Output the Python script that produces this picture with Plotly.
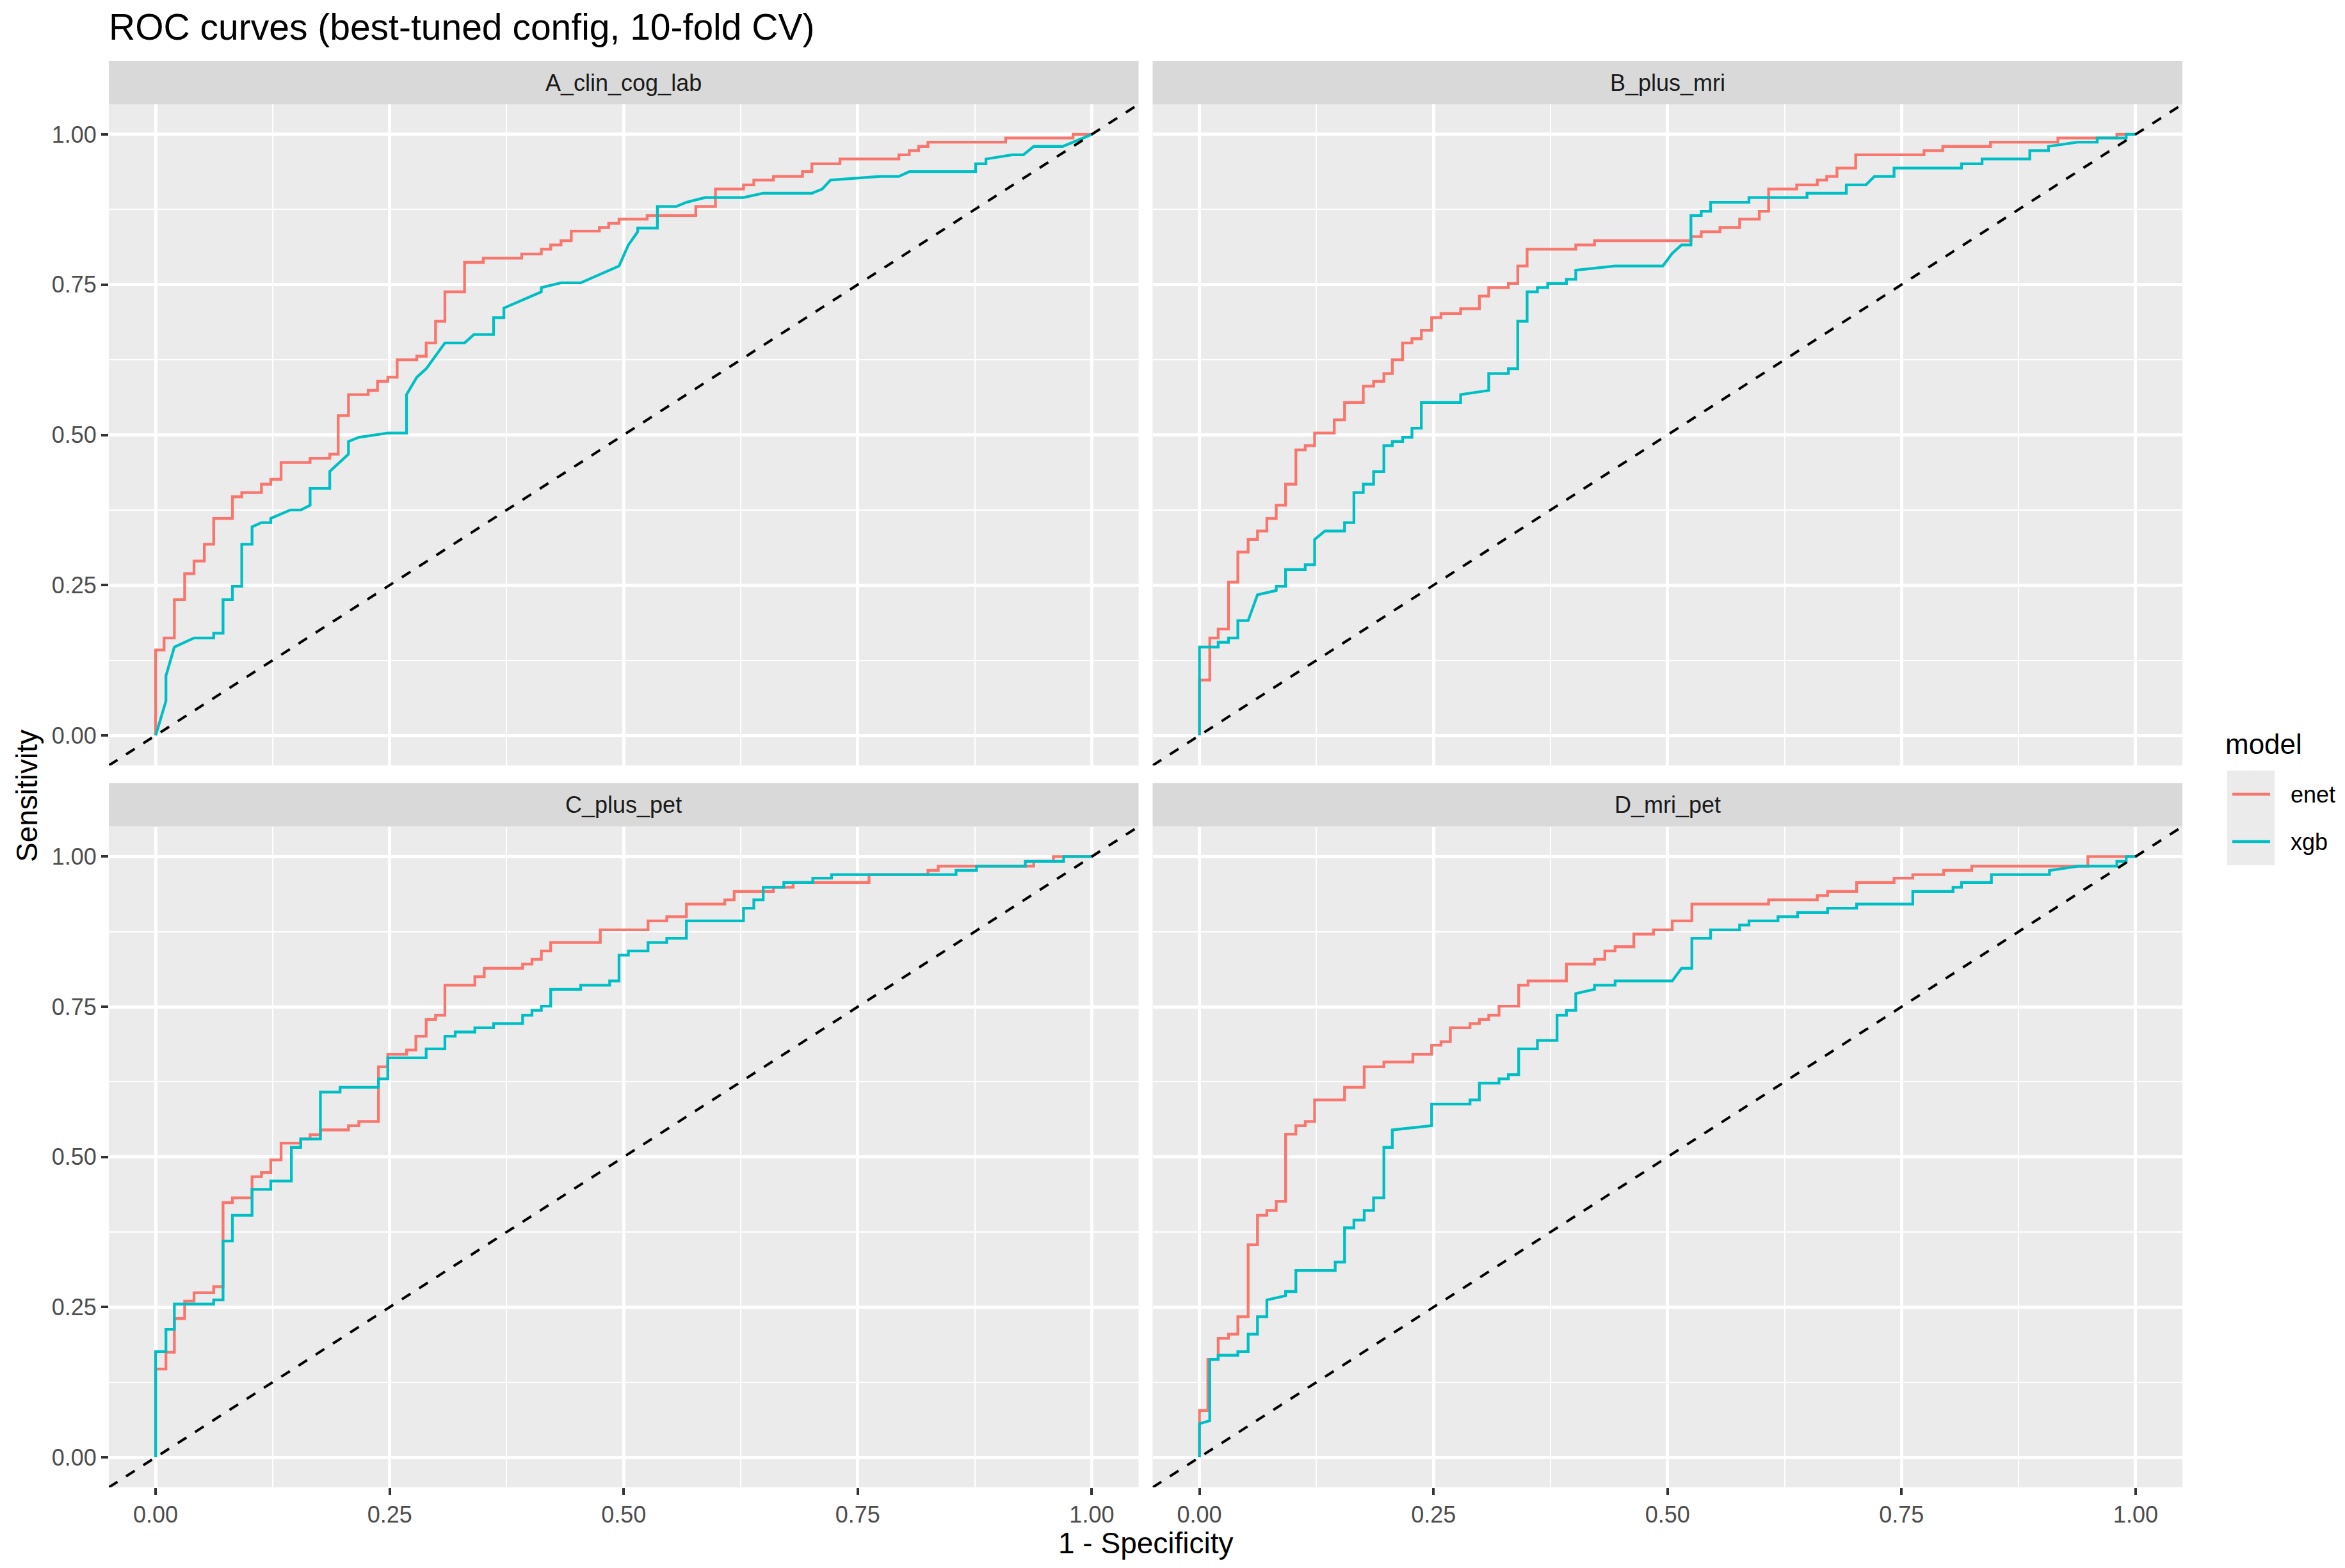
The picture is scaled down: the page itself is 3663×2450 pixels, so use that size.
import plotly.graph_objects as go

# ROC points (1 - specificity, sensitivity)
panels = ["A_clin_cog_lab", "B_plus_mri", "C_plus_pet", "D_mri_pet"]
models = ["enet", "xgb"]
model_colors = ["#F8766D", "#00BFC4"]
tick_vals = [0, 0.25, 0.5, 0.75, 1]
tick_labels = ["0.00", "0.25", "0.50", "0.75", "1.00"]

A_enet = [(0, 0), (0, .142), (.009, .142), (.009, .162), (.020, .162), (.020, .226), (.031, .226), (.031, .269),
          (.041, .269), (.041, .290), (.052, .290), (.052, .318), (.062, .318), (.062, .361), (.082, .361), (.082, .397),
          (.092, .397), (.092, .404), (.113, .404), (.113, .418), (.123, .418), (.123, .426), (.134, .426), (.134, .454),
          (.165, .454), (.165, .461), (.186, .461), (.186, .468), (.195, .468), (.195, .532), (.206, .532), (.206, .567),
          (.227, .567), (.227, .574), (.237, .574), (.237, .589), (.248, .589), (.248, .596), (.258, .596), (.258, .625),
          (.279, .625), (.279, .631), (.289, .631), (.289, .653), (.299, .653), (.299, .689), (.309, .689), (.309, .738),
          (.330, .738), (.330, .787), (.350, .787), (.350, .794), (.391, .794), (.391, .801), (.412, .801), (.412, .809),
          (.422, .809), (.422, .816), (.433, .816), (.433, .823), (.444, .823), (.444, .839), (.474, .839), (.474, .845),
          (.484, .845), (.484, .852), (.495, .852), (.495, .859), (.525, .859), (.525, .865), (.577, .865), (.577, .880),
          (.598, .880), (.598, .909), (.628, .909), (.628, .916), (.639, .916), (.639, .924), (.660, .924), (.660, .930),
          (.691, .930), (.691, .938), (.701, .938), (.701, .951), (.731, .951), (.731, .959), (.794, .959), (.794, .966),
          (.805, .966), (.805, .973), (.815, .973), (.815, .980), (.825, .980), (.825, .987), (.908, .987), (.908, .994),
          (.980, .994), (.980, 1), (1, 1)]

A_xgb = [(0, 0), (.011, .057), (.011, .099), (.020, .147), (.041, .162), (.062, .162), (.062, .170), (.072, .170),
         (.072, .226), (.082, .226), (.082, .248), (.092, .248), (.092, .318), (.103, .318), (.103, .347), (.113, .354),
         (.123, .354), (.123, .361), (.144, .375), (.155, .375), (.165, .383), (.165, .411), (.186, .411), (.186, .439),
         (.206, .468), (.206, .489), (.217, .496), (.248, .503), (.268, .503), (.268, .567), (.279, .596), (.289, .610),
         (.309, .653), (.330, .653), (.340, .667), (.361, .667), (.361, .695), (.372, .695), (.372, .711), (.412, .738),
         (.412, .745), (.433, .753), (.454, .753), (.495, .781), (.505, .816), (.515, .838), (.515, .844), (.536, .844),
         (.536, .880), (.556, .880), (.567, .887), (.587, .895), (.628, .895), (.649, .902), (.701, .902), (.712, .909),
         (.721, .924), (.774, .930), (.794, .930), (.805, .938), (.876, .938), (.876, .951), (.887, .951), (.887, .959),
         (.915, .966), (.927, .966), (.938, .980), (.969, .980), (1, 1)]

B_enet = [(0, 0), (0, .092), (.011, .092), (.011, .162), (.020, .162), (.020, .177), (.031, .177), (.031, .255),
          (.041, .255), (.041, .305), (.052, .305), (.052, .326), (.062, .326), (.062, .340), (.072, .340), (.072, .361),
          (.082, .361), (.082, .383), (.092, .383), (.092, .418), (.103, .418), (.103, .475), (.113, .475), (.113, .482),
          (.123, .482), (.123, .503), (.144, .503), (.144, .525), (.155, .525), (.155, .554), (.175, .554), (.175, .581),
          (.186, .581), (.186, .589), (.197, .589), (.197, .602), (.206, .602), (.206, .625), (.217, .625), (.217, .653),
          (.227, .653), (.227, .660), (.237, .660), (.237, .674), (.248, .674), (.248, .695), (.258, .695), (.258, .702),
          (.279, .702), (.279, .710), (.299, .710), (.299, .731), (.309, .731), (.309, .745), (.330, .745), (.330, .752),
          (.340, .752), (.340, .781), (.350, .781), (.350, .809), (.402, .809), (.402, .816), (.422, .816), (.422, .823),
          (.525, .823), (.525, .830), (.536, .830), (.536, .838), (.556, .838), (.556, .845), (.577, .845), (.577, .859),
          (.598, .859), (.598, .872), (.608, .872), (.608, .909), (.638, .909), (.638, .916), (.660, .916), (.660, .924),
          (.670, .924), (.670, .930), (.681, .930), (.681, .944), (.701, .944), (.701, .966), (.774, .966), (.774, .973),
          (.794, .973), (.794, .980), (.845, .980), (.845, .987), (.917, .987), (.917, .994), (.980, .994), (.980, 1),
          (1, 1)]

B_xgb = [(0, 0), (0, .147), (.020, .147), (.020, .155), (.031, .155), (.031, .162), (.041, .162), (.041, .191),
         (.052, .191), (.062, .234), (.082, .241), (.082, .248), (.092, .248), (.092, .276), (.113, .276), (.113, .284),
         (.123, .284), (.123, .326), (.134, .340), (.155, .340), (.155, .354), (.165, .354), (.165, .404), (.175, .404),
         (.175, .418), (.186, .418), (.186, .439), (.197, .439), (.197, .482), (.206, .482), (.206, .489), (.217, .489),
         (.217, .496), (.227, .496), (.227, .511), (.237, .511), (.237, .554), (.279, .554), (.279, .567), (.309, .574),
         (.309, .602), (.330, .602), (.330, .610), (.340, .610), (.340, .689), (.350, .689), (.350, .738), (.361, .738),
         (.361, .745), (.372, .745), (.372, .752), (.392, .752), (.392, .759), (.402, .759), (.402, .774), (.444, .781),
         (.495, .781), (.505, .802), (.515, .816), (.525, .816), (.525, .865), (.536, .865), (.536, .872), (.546, .872),
         (.546, .887), (.587, .887), (.587, .895), (.649, .895), (.649, .902), (.691, .902), (.691, .916), (.712, .916),
         (.721, .930), (.742, .930), (.742, .944), (.814, .944), (.814, .951), (.836, .951), (.836, .959), (.887, .959),
         (.887, .973), (.907, .973), (.907, .980), (.938, .987), (.959, .987), (.959, .994), (.990, .994), (.990, 1),
         (1, 1)]

C_enet = [(0, 0), (0, .147), (.011, .147), (.011, .175), (.020, .175), (.020, .231), (.031, .231), (.031, .260),
          (.041, .260), (.041, .274), (.062, .274), (.062, .284), (.072, .284), (.072, .424), (.082, .424), (.082, .432),
          (.103, .432), (.103, .467), (.113, .467), (.113, .474), (.123, .474), (.123, .495), (.134, .495), (.134, .523),
          (.155, .523), (.155, .530), (.165, .530), (.165, .537), (.176, .537), (.176, .545), (.206, .545), (.206, .552),
          (.217, .552), (.217, .559), (.238, .559), (.238, .650), (.248, .650), (.248, .671), (.268, .671), (.268, .678),
          (.278, .678), (.278, .701), (.289, .701), (.289, .729), (.299, .729), (.299, .736), (.309, .736), (.309, .786),
          (.341, .786), (.341, .800), (.351, .800), (.351, .814), (.392, .814), (.392, .821), (.402, .821), (.402, .829),
          (.412, .829), (.412, .843), (.422, .843), (.422, .857), (.475, .857), (.475, .878), (.526, .878), (.526, .893),
          (.546, .893), (.546, .900), (.567, .900), (.567, .921), (.608, .921), (.608, .928), (.618, .928), (.618, .942),
          (.660, .942), (.660, .949), (.681, .949), (.681, .957), (.762, .957), (.762, .970), (.825, .970), (.825, .977),
          (.836, .977), (.836, .984), (.938, .984), (.938, .992), (.959, .992), (.959, 1), (1, 1)]

C_xgb = [(0, 0), (0, .176), (.011, .176), (.011, .213), (.020, .213), (.020, .255), (.062, .255), (.062, .262),
         (.072, .262), (.072, .360), (.082, .360), (.082, .403), (.103, .403), (.103, .446), (.123, .446), (.123, .460),
         (.145, .460), (.145, .516), (.155, .516), (.155, .530), (.176, .530), (.176, .608), (.197, .608), (.197, .616),
         (.238, .616), (.238, .630), (.248, .630), (.248, .665), (.289, .665), (.289, .680), (.309, .680), (.309, .701),
         (.320, .701), (.320, .708), (.341, .708), (.341, .715), (.361, .715), (.361, .722), (.392, .722), (.392, .736),
         (.402, .736), (.402, .744), (.412, .744), (.412, .751), (.422, .751), (.422, .779), (.454, .779), (.454, .786),
         (.485, .786), (.485, .793), (.495, .793), (.495, .836), (.505, .836), (.505, .843), (.526, .843), (.526, .857),
         (.546, .857), (.546, .864), (.567, .864), (.567, .893), (.628, .893), (.628, .914), (.639, .914), (.639, .928),
         (.649, .928), (.649, .949), (.671, .949), (.671, .957), (.702, .957), (.702, .964), (.722, .964), (.722, .970),
         (.855, .970), (.855, .977), (.877, .977), (.877, .984), (.929, .984), (.929, .992), (.970, .992), (.970, 1),
         (1, 1)]

D_enet = [(0, 0), (0, .078), (.009, .078), (.009, .163), (.020, .163), (.020, .198), (.031, .198), (.031, .205),
          (.041, .205), (.041, .234), (.052, .234), (.052, .354), (.062, .354), (.062, .403), (.072, .403), (.072, .411),
          (.082, .411), (.082, .426), (.092, .426), (.092, .538), (.103, .538), (.103, .552), (.113, .552), (.113, .559),
          (.123, .559), (.123, .595), (.155, .595), (.155, .616), (.176, .616), (.176, .650), (.197, .650), (.197, .658),
          (.228, .658), (.228, .671), (.248, .671), (.248, .686), (.258, .686), (.258, .692), (.268, .692), (.268, .715),
          (.289, .715), (.289, .722), (.299, .722), (.299, .729), (.309, .729), (.309, .736), (.320, .736), (.320, .751),
          (.341, .751), (.341, .786), (.351, .786), (.351, .793), (.392, .793), (.392, .821), (.422, .821), (.422, .829),
          (.433, .829), (.433, .843), (.444, .843), (.444, .850), (.464, .850), (.464, .871), (.485, .871), (.485, .878),
          (.505, .878), (.505, .893), (.526, .893), (.526, .921), (.608, .921), (.608, .928), (.660, .928), (.660, .935),
          (.671, .935), (.671, .942), (.702, .942), (.702, .957), (.742, .957), (.742, .964), (.762, .964), (.762, .970),
          (.795, .970), (.795, .977), (.825, .977), (.825, .984), (.949, .984), (.949, 1), (1, 1)]

D_xgb = [(0, 0), (0, .056), (.011, .061), (.011, .163), (.020, .163), (.020, .170), (.041, .170), (.041, .176),
         (.052, .176), (.052, .205), (.062, .205), (.062, .234), (.072, .234), (.072, .262), (.092, .269), (.092, .276),
         (.103, .276), (.103, .311), (.145, .311), (.145, .325), (.155, .325), (.155, .382), (.165, .382), (.165, .395),
         (.176, .395), (.176, .411), (.186, .411), (.186, .432), (.197, .432), (.197, .516), (.206, .516), (.206, .545),
         (.248, .552), (.248, .588), (.289, .588), (.289, .595), (.299, .595), (.299, .623), (.320, .623), (.320, .630),
         (.330, .630), (.330, .637), (.341, .637), (.341, .680), (.361, .680), (.361, .694), (.382, .694), (.382, .736),
         (.392, .736), (.392, .744), (.402, .744), (.402, .772), (.422, .779), (.422, .786), (.444, .786), (.444, .793),
         (.505, .793), (.515, .814), (.526, .814), (.526, .864), (.546, .864), (.546, .878), (.577, .878), (.577, .886),
         (.587, .886), (.587, .893), (.618, .893), (.618, .900), (.639, .900), (.639, .907), (.671, .907), (.671, .914),
         (.702, .914), (.702, .921), (.762, .921), (.762, .942), (.805, .942), (.805, .949), (.814, .949), (.814, .957),
         (.846, .957), (.846, .970), (.908, .970), (.908, .977), (.939, .984), (.980, .984), (.980, .992), (.990, .992),
         (.990, 1), (1, 1)]

curves = {
    "A_clin_cog_lab": [A_enet, A_xgb],
    "B_plus_mri": [B_enet, B_xgb],
    "C_plus_pet": [C_enet, C_xgb],
    "D_mri_pet": [D_enet, D_xgb],
}

# the page body has an 8px margin, so the figure sits at (8, 8) in the window
OFF = 8
W, H = 3663 - 2 * OFF, 2450 - 2 * OFF
ML, MT = 170 - OFF, 95 - OFF
MR = W - (3409 - OFF)
MB = H - (2324 - OFF)
PW, PH = W - ML - MR, H - MT - MB


def px_x(px):
    # window pixel -> paper x
    return (px - OFF - ML) / PW


def px_y(py):
    # window pixel -> paper y
    return (H - MB - (py - OFF)) / PH


FONT = "Liberation Sans, Arial, sans-serif"

# panel layout: (column, y domain, strip y range)
x_doms = [[0, px_x(1778.5)], [px_x(1800.5), 1]]
top_dom = [px_y(1196), px_y(163)]
bot_dom = [0, px_y(1291.5)]
strip_top = [px_y(163), 1]
strip_bot = [px_y(1291.5), px_y(1223.5)]
grid = [(0, top_dom, strip_top), (1, top_dom, strip_top), (0, bot_dom, strip_bot), (1, bot_dom, strip_bot)]

fig = go.Figure()

for i, panel in enumerate(panels):
    sfx = "" if i == 0 else str(i + 1)
    for m, pts, col in zip(models, curves[panel], model_colors):
        fig.add_trace(go.Scatter(
            x=[p[0] for p in pts], y=[p[1] for p in pts],
            mode="lines", line=dict(color=col, width=4.3),
            name=m, legendgroup=m, showlegend=False,
            xaxis="x" + sfx, yaxis="y" + sfx,
        ))

shapes = []
annotations = []
for i, panel in enumerate(panels):
    col, ydom, sdom = grid[i]
    sfx = "" if i == 0 else str(i + 1)
    bottom = ydom is bot_dom
    left = col == 0
    axis_common = dict(
        range=[-0.05, 1.05], zeroline=False, showline=False,
        showgrid=True, gridcolor="white", gridwidth=4.5,
        tickvals=tick_vals, ticktext=tick_labels,
        minor=dict(tickvals=[0.125, 0.375, 0.625, 0.875], showgrid=True,
                   gridcolor="white", gridwidth=2.2, ticks=""),
        tickfont=dict(family=FONT, size=36, color="#4D4D4D"),
        ticklen=11, tickwidth=4, tickcolor="#333333",
    )
    fig.layout["xaxis" + sfx] = dict(
        axis_common, domain=x_doms[col], anchor="y" + sfx,
        ticks="outside" if bottom else "", showticklabels=bottom,
    )
    fig.layout["yaxis" + sfx] = dict(
        axis_common, domain=ydom, anchor="x" + sfx,
        ticks="outside" if left else "", showticklabels=left,
    )
    # reference diagonal
    shapes.append(dict(type="line", xref="x" + sfx, yref="y" + sfx,
                       x0=-0.05, y0=-0.05, x1=1.05, y1=1.05, layer="above",
                       line=dict(color="black", width=4, dash="16px,16px")))
    # facet strip
    shapes.append(dict(type="rect", xref="paper", yref="paper",
                       x0=x_doms[col][0], x1=x_doms[col][1], y0=sdom[0], y1=sdom[1],
                       fillcolor="#D9D9D9", line=dict(width=0), layer="below"))
    annotations.append(dict(text=panel, xref="paper", yref="paper",
                            x=(x_doms[col][0] + x_doms[col][1]) / 2, y=(sdom[0] + sdom[1]) / 2,
                            xanchor="center", yanchor="middle", showarrow=False,
                            font=dict(family=FONT, size=36, color="#1A1A1A")))

# axis titles
annotations.append(dict(text="1 - Specificity", xref="paper", yref="paper", x=0.5, y=px_y(2411),
                        xanchor="center", yanchor="middle", showarrow=False,
                        font=dict(family=FONT, size=46, color="black")))
annotations.append(dict(text="Sensitivity", xref="paper", yref="paper", x=px_x(42), y=px_y(1244),
                        xanchor="center", yanchor="middle", showarrow=False, textangle=-90,
                        font=dict(family=FONT, size=46, color="black")))

# legend, ggplot style
annotations.append(dict(text="model", xref="paper", yref="paper", x=px_x(3474), y=px_y(1162),
                        xanchor="left", yanchor="middle", showarrow=False,
                        font=dict(family=FONT, size=44, color="black")))
shapes.append(dict(type="rect", xref="paper", yref="paper", x0=px_x(3479), x1=px_x(3553),
                   y0=px_y(1352), y1=px_y(1204), fillcolor="#EBEBEB", line=dict(width=0)))
for k, (m, c) in enumerate(zip(models, model_colors)):
    yk = px_y(1241 + 74 * k)
    shapes.append(dict(type="line", xref="paper", yref="paper", x0=px_x(3487), x1=px_x(3546),
                       y0=yk, y1=yk, line=dict(color=c, width=4.3)))
    annotations.append(dict(text=m, xref="paper", yref="paper", x=px_x(3576), y=yk,
                            xanchor="left", yanchor="middle", showarrow=False,
                            font=dict(family=FONT, size=36, color="black")))

fig.update_layout(
    width=W, height=H,
    margin=dict(l=ML, r=MR, t=MT, b=MB),
    paper_bgcolor="white", plot_bgcolor="#EBEBEB",
    font=dict(family=FONT),
    showlegend=False,
    title=dict(text="ROC curves (best-tuned config, 10-fold CV)", xref="paper", x=0, xanchor="left",
               yref="container", y=1 - (42 - OFF) / H, yanchor="middle",
               font=dict(family=FONT, size=57, color="black")),
    shapes=shapes, annotations=annotations,
)

fig.write_html("out.html")
